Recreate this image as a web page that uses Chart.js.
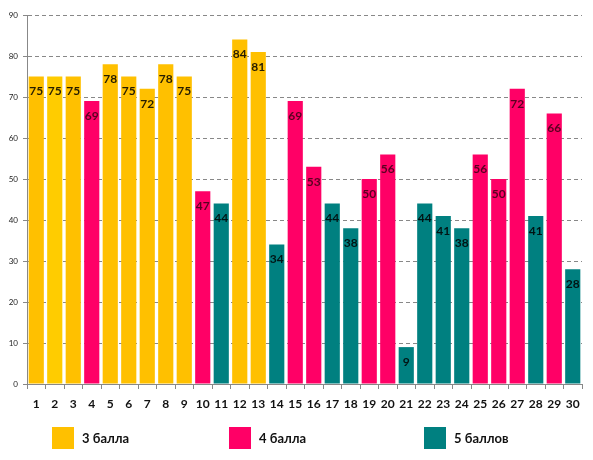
<!DOCTYPE html>
<html>
<head>
<meta charset="utf-8">
<script src="https://cdn.jsdelivr.net/npm/chart.js@4"></script>
<style>
  body { margin: 0; background: #fff; }
  #wrap { position: relative; width: 593px; height: 460px; }
  .lg { position: absolute; top: 427px; height: 22px; display: flex; align-items: center;
        font: bold 13px Lato, "Open Sans", sans-serif; color: #111; }
  .lg span { display: inline-block; width: 22px; height: 22px; margin-right: 8px; }
</style>
</head>
<body>
<div id="wrap">
  <canvas id="chart" width="593" height="460"></canvas>
  <div class="lg" style="left:52px"><span style="background:#ffc000"></span>3 балла</div>
  <div class="lg" style="left:229px"><span style="background:#ff0066"></span>4 балла</div>
  <div class="lg" style="left:424px"><span style="background:#008080"></span>5 баллов</div>
</div>
<script>
const students = Array.from({ length: 30 }, (_, i) => String(i + 1));
const scores = [75, 75, 75, 69, 78, 75, 72, 78, 75, 47, 44, 84, 81, 34, 69, 53, 44, 38, 50, 56, 9, 44, 41, 38, 56, 50, 72, 41, 66, 28];
const grades = [3, 3, 3, 4, 3, 3, 3, 3, 3, 4, 5, 3, 3, 5, 4, 4, 5, 5, 4, 4, 5, 5, 5, 5, 4, 4, 4, 5, 4, 5];
const gradeNames = { 3: "3 балла", 4: "4 балла", 5: "5 баллов" };
const gradeColors = { 3: "#ffc000", 4: "#ff0066", 5: "#008080" };

const datasets = [3, 4, 5].map((g) => ({
  label: gradeNames[g],
  data: scores.map((v, i) => (grades[i] === g ? v : null)),
  backgroundColor: scores.map((v, i) => (g === 3 && i === 1 ? "#ffcc00" : gradeColors[g])),
  borderWidth: 0,
  categoryPercentage: 1,
  barPercentage: 0.82,
}));

// value labels inside the top of each bar
const barLabels = {
  id: "barLabels",
  afterDatasetsDraw(chart) {
    const ctx = chart.ctx;
    ctx.save();
    ctx.font = "bold 12px Lato, 'Open Sans', sans-serif";
    ctx.textAlign = "center";
    ctx.textBaseline = "middle";
    chart.data.datasets.forEach((ds, di) => {
      const meta = chart.getDatasetMeta(di);
      meta.data.forEach((bar, i) => {
        if (ds.data[i] == null) return;
        ctx.fillStyle = di === 1 ? "rgba(60,0,20,0.85)" : "rgba(0,0,0,0.85)";
        ctx.fillText(ds.data[i], bar.x, bar.y + 15);
      });
    });
    ctx.restore();
  },
};

new Chart(document.getElementById("chart").getContext("2d"), {
  type: "bar",
  data: { labels: students, datasets },
  plugins: [barLabels],
  options: {
    responsive: false,
    animation: false,
    layout: { padding: { top: 15, right: 11, bottom: 36, left: 0 } },
    plugins: { legend: { display: false }, tooltip: { enabled: false } },
    scales: {
      x: {
        stacked: true,
        afterFit: (s) => { s.height = 40; },
        grid: { drawOnChartArea: false, offset: true, tickLength: 5, color: "#888" },
        border: { color: "#888" },
        ticks: { color: "#111", padding: 8, autoSkip: false, maxRotation: 0, minRotation: 0,
                 font: { family: "Lato", weight: "bold", size: 12 } },
      },
      y: {
        stacked: true,
        min: 0,
        max: 90,
        afterFit: (s) => { s.width = 27; },
        ticks: { stepSize: 10, color: "#222", padding: 5, font: { family: "Lato", size: 8 } },
        grid: { color: "#888", tickLength: 4 },
        border: { color: "#888", dash: [4, 3] },
      },
    },
  },
});
</script>
</body>
</html>
